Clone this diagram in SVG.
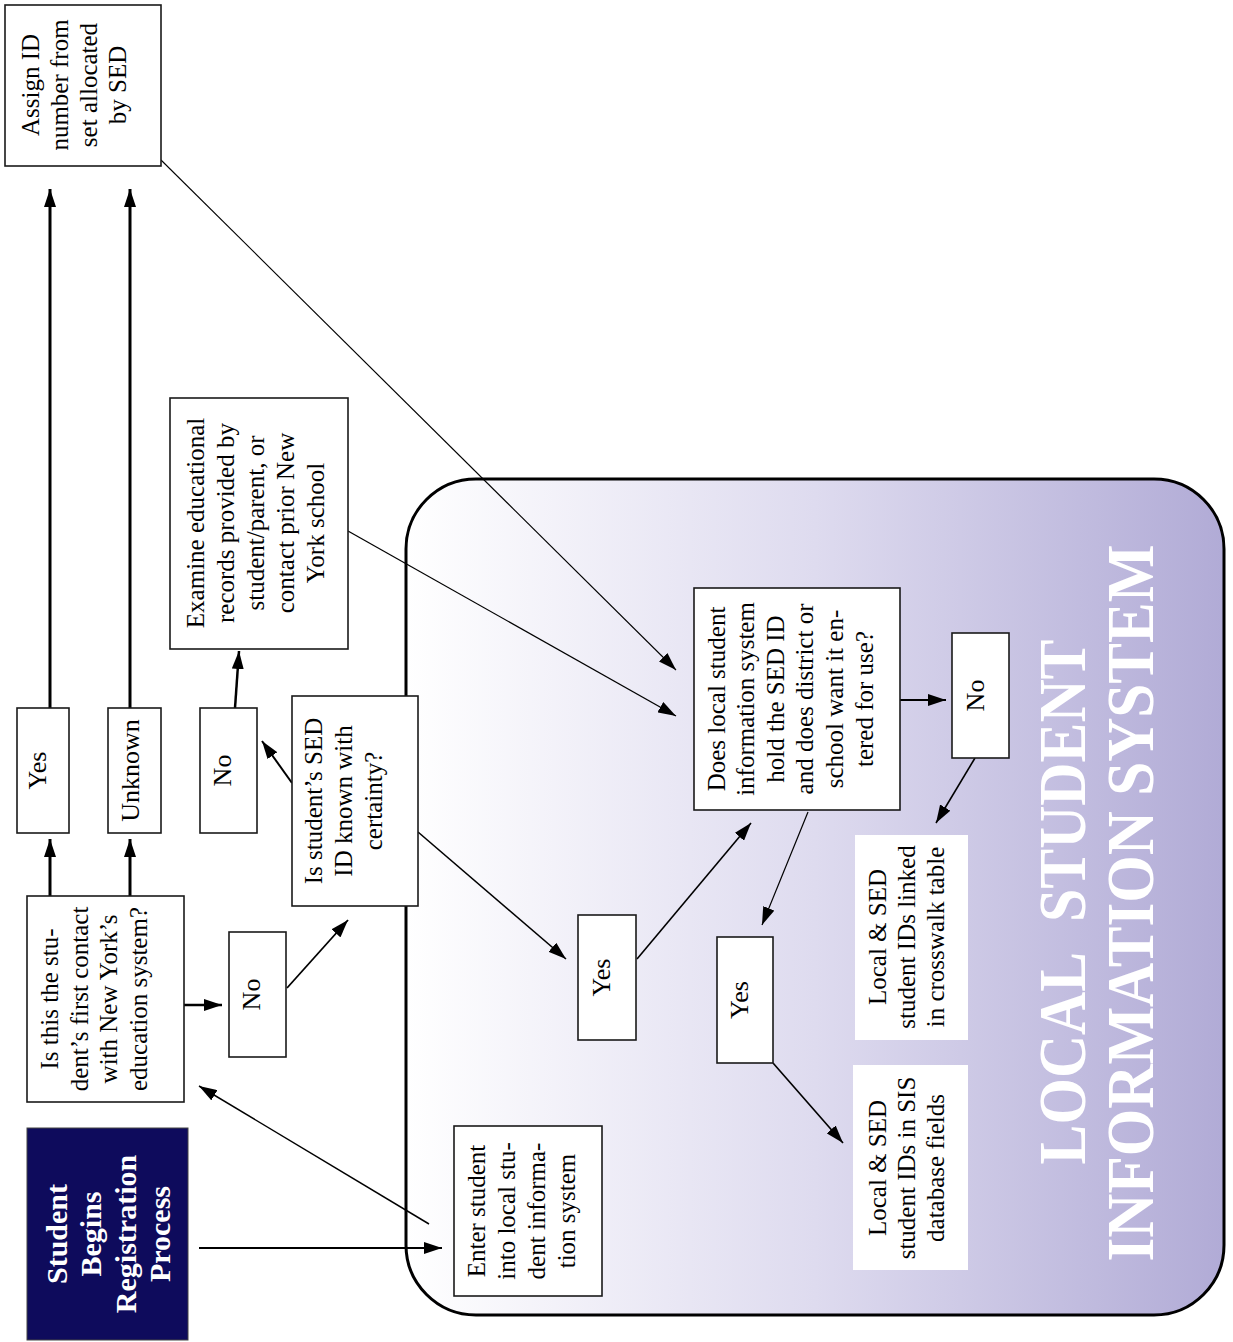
<svg xmlns="http://www.w3.org/2000/svg" width="1233" height="1342" viewBox="0 0 1233 1342">
<style>
.box{fill:#fff;stroke:#1a1a1a;stroke-width:1.6}
.wbox{fill:#fff;stroke:none}
.t{font-family:"Liberation Serif","Times New Roman",serif;font-size:25px;fill:#000;text-anchor:middle}
.lab{font-family:"Liberation Serif","Times New Roman",serif;font-size:26px;fill:#000;text-anchor:middle}
.st{font-family:"Liberation Serif","Times New Roman",serif;font-size:30px;font-weight:bold;fill:#fff;text-anchor:middle}
.big{font-family:"Liberation Serif","Times New Roman",serif;font-size:68px;font-weight:bold;fill:#fff;text-anchor:middle}
.c{stroke:#000;fill:none;marker-end:url(#ah)}
</style>
<defs>
<linearGradient id="bg" gradientUnits="userSpaceOnUse" x1="406" y1="0" x2="1224" y2="0">
<stop offset="0" stop-color="#ffffff"/>
<stop offset="0.5" stop-color="#dedbef"/>
<stop offset="1" stop-color="#b1abd6"/>
</linearGradient>
<marker id="ah" viewBox="0 0 18 12" refX="18" refY="6" markerWidth="18" markerHeight="12" orient="auto" markerUnits="userSpaceOnUse">
<path d="M0,0 L18,6 L0,12 z" fill="#000"/>
</marker>
</defs>

<g id="lsis">
<rect x="406" y="479" width="818" height="836" rx="70" ry="70" fill="url(#bg)" stroke="#000" stroke-width="3"/>
<text class="big" transform="translate(1062,902) rotate(-90)"><tspan x="0" y="22.5" textLength="525" lengthAdjust="spacingAndGlyphs">LOCAL&#160;&#160;STUDENT</tspan></text>
<text class="big" transform="translate(1130,903) rotate(-90)"><tspan x="0" y="22.5" textLength="717" lengthAdjust="spacingAndGlyphs">INFORMATION SYSTEM</tspan></text>
</g>

<g id="connectors">
<line class="c" x1="199" y1="1248" x2="442" y2="1248" stroke-width="2"/>
<line class="c" x1="429" y1="1224" x2="199" y2="1086" stroke-width="1.5"/>
<line class="c" x1="50" y1="896" x2="50" y2="839" stroke-width="3"/>
<line class="c" x1="130" y1="896" x2="130" y2="839" stroke-width="3"/>
<line class="c" x1="184" y1="1005" x2="222" y2="1005" stroke-width="2.5"/>
<line class="c" x1="50" y1="708" x2="50" y2="189" stroke-width="3"/>
<line class="c" x1="130" y1="708" x2="130" y2="189" stroke-width="3"/>
<line class="c" x1="287" y1="988" x2="348" y2="920" stroke-width="1.8"/>
<line class="c" x1="292" y1="783" x2="262" y2="741" stroke-width="2"/>
<line class="c" x1="235" y1="708" x2="239" y2="651" stroke-width="2.5"/>
<line class="c" x1="418" y1="832" x2="566" y2="959" stroke-width="1.6"/>
<line class="c" x1="637" y1="959" x2="751" y2="823" stroke-width="1.6"/>
<line class="c" x1="808" y1="812" x2="762" y2="925" stroke-width="1.2"/>
<line class="c" x1="773" y1="1063" x2="843" y2="1143" stroke-width="1.6"/>
<line class="c" x1="348" y1="531" x2="676" y2="716" stroke-width="1.3"/>
<line class="c" x1="161" y1="160" x2="676" y2="670" stroke-width="1.1"/>
<line class="c" x1="900" y1="700" x2="946" y2="700" stroke-width="2"/>
<line class="c" x1="975" y1="758" x2="936" y2="823" stroke-width="1.6"/>
</g>

<g id="assign">
<rect class="box" x="5" y="5" width="156" height="161"/>
<text class="t" transform="translate(74,85) rotate(-90)"><tspan x="0" y="-35">Assign ID</tspan><tspan x="0" y="-6">number from</tspan><tspan x="0" y="23">set allocated</tspan><tspan x="0" y="52">by SED</tspan></text>
</g>

<g id="yes1">
<rect class="box" x="17" y="708" width="52" height="125"/>
<text class="lab" transform="translate(37,770.5) rotate(-90)"><tspan x="0" y="9">Yes</tspan></text>
</g>

<g id="unknown">
<rect class="box" x="108" y="708" width="53" height="125"/>
<text class="lab" transform="translate(130,770.5) rotate(-90)"><tspan x="0" y="9">Unknown</tspan></text>
</g>

<g id="no1">
<rect class="box" x="200" y="708" width="57" height="125"/>
<text class="lab" transform="translate(222,770.5) rotate(-90)"><tspan x="0" y="9">No</tspan></text>
</g>

<g id="examine">
<rect class="box" x="170" y="398" width="178" height="251"/>
<text class="t" transform="translate(255,523) rotate(-90)"><tspan x="0" y="-51.5">Examine educational</tspan><tspan x="0" y="-21.5">records provided by</tspan><tspan x="0" y="8.5">student/parent, or</tspan><tspan x="0" y="38.5">contact prior New</tspan><tspan x="0" y="68.5">York school</tspan></text>
</g>

<g id="first">
<rect class="box" x="27" y="896" width="157" height="206"/>
<text class="t" transform="translate(94,999) rotate(-90)"><tspan x="0" y="-35.75">Is this the stu-</tspan><tspan x="0" y="-6.25">dent’s first contact</tspan><tspan x="0" y="23.25">with New York’s</tspan><tspan x="0" y="52.75">education system?</tspan></text>
</g>

<g id="start">
<rect x="27" y="1128" width="161" height="212" fill="#0e0b5c" stroke="#444" stroke-width="1"/>
<text class="st" transform="translate(108,1234) rotate(-90)"><tspan x="0" y="-41.5">Student</tspan><tspan x="0" y="-7">Begins</tspan><tspan x="0" y="27.5">Registration</tspan><tspan x="0" y="62">Process</tspan></text>
</g>

<g id="no2">
<rect class="box" x="229" y="932" width="57" height="125"/>
<text class="lab" transform="translate(251,994.5) rotate(-90)"><tspan x="0" y="9">No</tspan></text>
</g>

<g id="sedknown">
<rect class="box" x="292" y="696" width="126" height="210"/>
<text class="t" transform="translate(343,801) rotate(-90)"><tspan x="0" y="-21.5">Is student’s SED</tspan><tspan x="0" y="8.5">ID known with</tspan><tspan x="0" y="38.5">certainty?</tspan></text>
</g>

<g id="enter">
<rect class="box" x="454" y="1126" width="148" height="170"/>
<text class="t" transform="translate(521,1211) rotate(-90)"><tspan x="0" y="-36.5">Enter student</tspan><tspan x="0" y="-6.5">into local stu-</tspan><tspan x="0" y="23.5">dent informa-</tspan><tspan x="0" y="53.5">tion system</tspan></text>
</g>

<g id="yes2">
<rect class="box" x="578" y="915" width="58" height="125"/>
<text class="lab" transform="translate(601,977.5) rotate(-90)"><tspan x="0" y="9">Yes</tspan></text>
</g>

<g id="does">
<rect class="box" x="694" y="588" width="206" height="222"/>
<text class="t" transform="translate(790,699) rotate(-90)"><tspan x="0" y="-65.5">Does local student</tspan><tspan x="0" y="-35.9">information system</tspan><tspan x="0" y="-6.3">hold the SED ID</tspan><tspan x="0" y="23.3">and does district or</tspan><tspan x="0" y="52.9">school want it en-</tspan><tspan x="0" y="82.5">tered for use?</tspan></text>
</g>

<g id="no3">
<rect class="box" x="952" y="633" width="57" height="125"/>
<text class="lab" transform="translate(975,695.5) rotate(-90)"><tspan x="0" y="9">No</tspan></text>
</g>

<g id="yes3">
<rect class="box" x="717" y="937" width="56" height="126"/>
<text class="lab" transform="translate(739,1000) rotate(-90)"><tspan x="0" y="9">Yes</tspan></text>
</g>

<g id="crosswalk">
<rect class="wbox" x="855" y="835" width="113" height="205"/>
<text class="t" transform="translate(906,937) rotate(-90)"><tspan x="0" y="-20.5">Local &amp; SED</tspan><tspan x="0" y="8.5">student IDs linked</tspan><tspan x="0" y="37.5">in crosswalk table</tspan></text>
</g>

<g id="sisfields">
<rect class="wbox" x="853" y="1065" width="115" height="205"/>
<text class="t" transform="translate(906,1168) rotate(-90)"><tspan x="0" y="-20.5">Local &amp; SED</tspan><tspan x="0" y="8.5">student IDs in SIS</tspan><tspan x="0" y="37.5">database fields</tspan></text>
</g>
</svg>
